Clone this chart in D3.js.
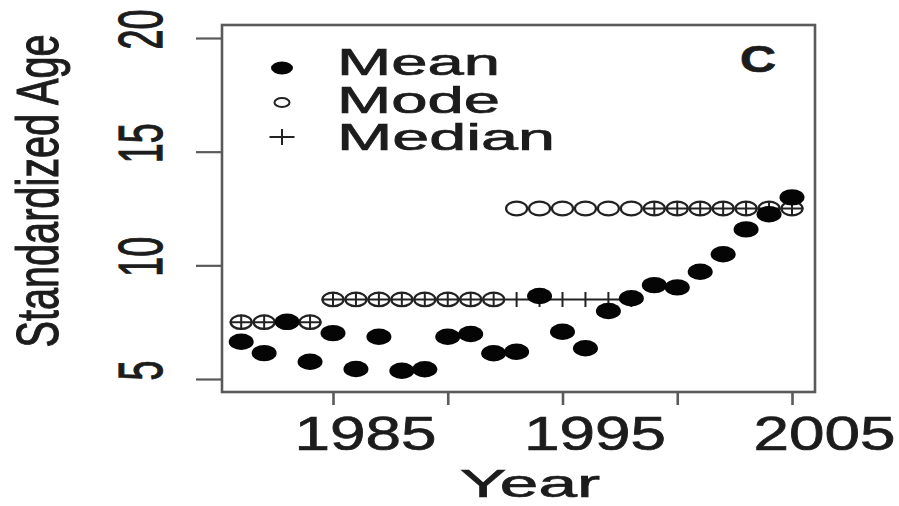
<!DOCTYPE html>
<html>
<head>
<meta charset="utf-8">
<script src="https://cdn.jsdelivr.net/npm/d3@7"></script>
<style>
    html, body { margin: 0; padding: 0; background: #fff; }
    svg { display: block; font-family: "Liberation Sans", Arial, Helvetica, sans-serif; }
    svg text { stroke: #1c1c1c; stroke-width: 0.7px; }
</style>
</head>
<body>
<div id="chart"></div>
<script>
// standardized age by year (panel C)
const YEARS = [1981, 1982, 1983, 1984, 1985, 1986, 1987, 1988, 1989, 1990, 1991, 1992, 1993,
    1994, 1995, 1996, 1997, 1998, 1999, 2000, 2001, 2002, 2003, 2004, 2005];

const MEAN_AGE = [6.64, 6.14, 7.52, 5.76, 7.02, 5.44, 6.86, 5.36, 5.43, 6.86, 6.98, 6.13, 6.20,
    8.65, 7.08, 6.35, 7.99, 8.55, 9.13, 9.03, 9.72, 10.49, 11.58, 12.25, 12.99];

const MODE_AGE = [7.5, 7.5, 7.5, 7.5, 8.5, 8.5, 8.5, 8.5, 8.5, 8.5, 8.5, 8.5, 12.5,
    12.5, 12.5, 12.5, 12.5, 12.5, 12.5, 12.5, 12.5, 12.5, 12.5, 12.5, 12.5];

const MEDIAN_AGE = [7.5, 7.5, 7.5, 7.5, 8.5, 8.5, 8.5, 8.5, 8.5, 8.5, 8.5, 8.5, 8.5,
    8.5, 8.5, 8.5, 8.5, 8.5, 12.5, 12.5, 12.5, 12.5, 12.5, 12.5, 12.5];

const X_TICKS = [1985, 1990, 1995, 2000, 2005];
const X_LABELS = [1985, 1995, 2005];
const Y_TICKS = [5, 10, 15, 20];
const LEGEND = ["Mean", "Mode", "Median"];

const width = 899;
const height = 506;
const box = { left: 222, top: 25, right: 815, bottom: 392 };
const ink = "#1c1c1c";
const frame = "#5a5a5a";

const svg = d3.select("#chart").append("svg")
    .attr("width", width)
    .attr("height", height);

const x = d3.scaleLinear().domain([1985, 2005]).range([333, 792]);
const y = d3.scaleLinear().domain([5, 20]).range([379, 38]);

// plot box
svg.append("rect")
    .attr("x", box.left)
    .attr("y", box.top)
    .attr("width", box.right - box.left)
    .attr("height", box.bottom - box.top)
    .attr("fill", "none")
    .attr("stroke", frame)
    .attr("stroke-width", 2.6);

// x axis
const xAxis = svg.append("g")
    .attr("transform", `translate(0,${box.bottom})`)
    .call(d3.axisBottom(x)
        .tickValues(X_TICKS)
        .tickSize(13)
        .tickFormat(d => X_LABELS.includes(d) ? String(d) : ""));
xAxis.select(".domain").remove();
xAxis.selectAll(".tick line").attr("stroke", frame).attr("stroke-width", 2.6);
xAxis.selectAll(".tick text")
    .attr("fill", ink)
    .attr("font-size", 48)
    .attr("y", 58)
    .attr("dy", 0)
    .attr("dx", 32)
    .attr("textLength", d => X_LABELS.includes(d) ? 142 : null)
    .attr("lengthAdjust", "spacingAndGlyphs");

// y axis
const yAxis = svg.append("g")
    .attr("transform", `translate(${box.left},0)`)
    .call(d3.axisLeft(y)
        .tickValues(Y_TICKS)
        .tickSize(26)
        .tickFormat(d3.format("d")));
yAxis.select(".domain").remove();
yAxis.selectAll(".tick line").attr("stroke", frame).attr("stroke-width", 2.2);
yAxis.selectAll(".tick text")
    .attr("fill", ink)
    .attr("font-size", 36)
    .attr("x", 0)
    .attr("y", 0)
    .attr("dy", 0)
    .attr("text-anchor", "middle")
    .attr("transform", "translate(-60,-9) scale(1.75,1) rotate(-90)");

// axis titles
svg.append("text")
    .attr("x", 530)
    .attr("y", 497)
    .attr("text-anchor", "middle")
    .attr("font-size", 38)
    .attr("fill", ink)
    .attr("textLength", 140)
    .attr("lengthAdjust", "spacingAndGlyphs")
    .text("Year");

svg.append("text")
    .attr("transform", "translate(58,191) scale(1.5,1) rotate(-90)")
    .attr("text-anchor", "middle")
    .attr("font-size", 39)
    .attr("fill", ink)
    .attr("textLength", 313)
    .attr("lengthAdjust", "spacingAndGlyphs")
    .text("Standardized Age");

// panel letter
svg.append("text")
    .attr("x", 758)
    .attr("y", 72)
    .attr("text-anchor", "middle")
    .attr("font-size", 36)
    .attr("font-weight", "bold")
    .attr("fill", ink)
    .attr("textLength", 36)
    .attr("lengthAdjust", "spacingAndGlyphs")
    .text("C");

// marks
const rows = YEARS.map((year, i) => ({
    year,
    mean: MEAN_AGE[i],
    mode: MODE_AGE[i],
    median: MEDIAN_AGE[i]
}));

const plusPath = (cx, cy, hw, hh) =>
    `M${cx - hw},${cy}H${cx + hw}M${cx},${cy - hh}V${cy + hh}`;

svg.append("g").selectAll("ellipse")
    .data(rows)
    .join("ellipse")
    .attr("cx", d => x(d.year))
    .attr("cy", d => y(d.mode))
    .attr("rx", 10.5)
    .attr("ry", 6.8)
    .attr("fill", "none")
    .attr("stroke", "#222")
    .attr("stroke-width", 2.2);

svg.append("g").selectAll("path")
    .data(rows)
    .join("path")
    .attr("d", d => plusPath(x(d.year), y(d.median), 11.5, 7.5))
    .attr("fill", "none")
    .attr("stroke", "#222")
    .attr("stroke-width", 2);

svg.append("g").selectAll("ellipse")
    .data(rows)
    .join("ellipse")
    .attr("cx", d => x(d.year))
    .attr("cy", d => y(d.mean))
    .attr("rx", 12.5)
    .attr("ry", 8.2)
    .attr("fill", "#050505");

// legend
const legendY = d3.scalePoint().domain(LEGEND).range([68, 137]);
const legendBase = d3.scalePoint().domain(LEGEND).range([75, 150]);
const legendLen = { Mean: 163, Mode: 163, Median: 218 };

const legend = svg.append("g");
legend.append("ellipse")
    .attr("cx", 282).attr("cy", legendY("Mean"))
    .attr("rx", 11).attr("ry", 6.5)
    .attr("fill", "#050505");
legend.append("ellipse")
    .attr("cx", 282).attr("cy", legendY("Mode"))
    .attr("rx", 7.5).attr("ry", 4.5)
    .attr("fill", "none")
    .attr("stroke", "#222")
    .attr("stroke-width", 2);
legend.append("path")
    .attr("d", plusPath(282, legendY("Median"), 12.5, 8))
    .attr("fill", "none")
    .attr("stroke", "#222")
    .attr("stroke-width", 2);

legend.selectAll("text")
    .data(LEGEND)
    .join("text")
    .attr("x", 337)
    .attr("y", d => legendBase(d))
    .attr("font-size", 37)
    .attr("fill", ink)
    .attr("textLength", d => legendLen[d])
    .attr("lengthAdjust", "spacingAndGlyphs")
    .text(d => d);
</script>
</body>
</html>
